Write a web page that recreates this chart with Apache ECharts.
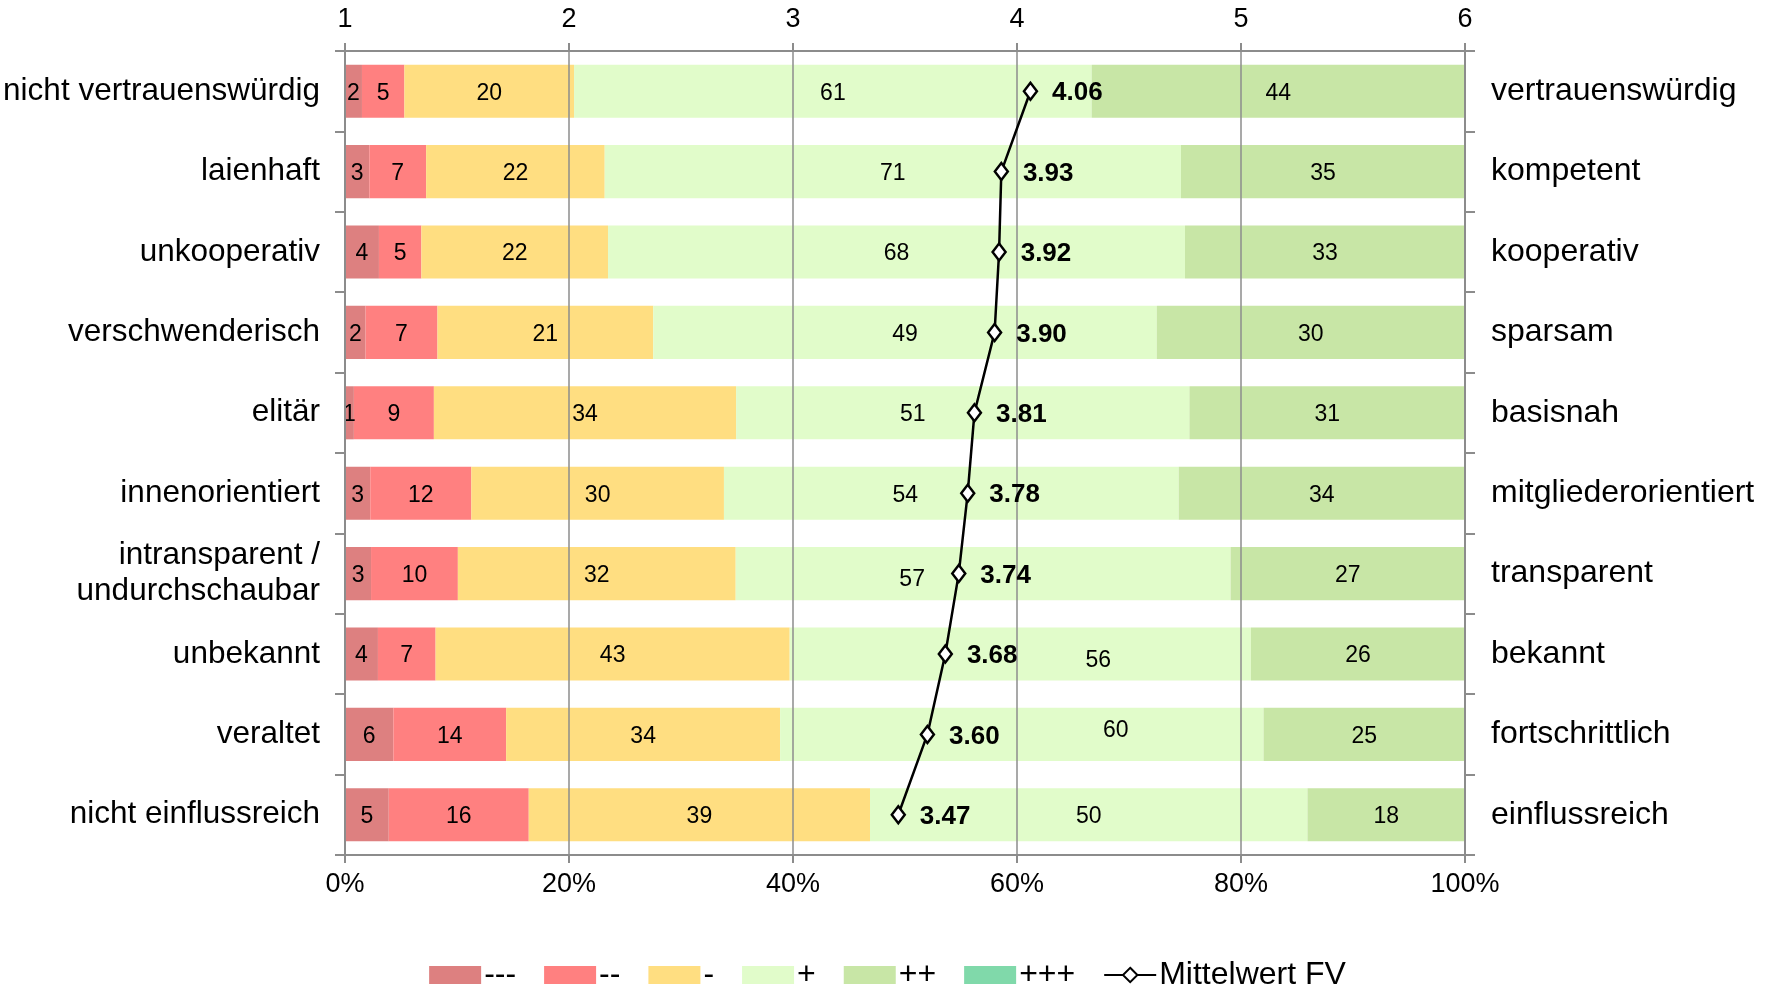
<!DOCTYPE html>
<html>
<head>
<meta charset="utf-8">
<script src="https://cdn.jsdelivr.net/npm/echarts@6/dist/echarts.min.js"></script>
<style>
  html, body { margin: 0; padding: 0; background: #fff; }
  #chart { width: 1775px; height: 987px; }
</style>
</head>
<body>
<div id="chart"></div>
<script>
// Gegensatzpaare (links negativ, rechts positiv)
const leftLabels = ["nicht vertrauenswürdig", "laienhaft", "unkooperativ", "verschwenderisch", "elitär",
  "innenorientiert", "intransparent /\nundurchschaubar", "unbekannt", "veraltet", "nicht einflussreich"];
const rightLabels = ["vertrauenswürdig", "kompetent", "kooperativ", "sparsam", "basisnah",
  "mitgliederorientiert", "transparent", "bekannt", "fortschrittlich", "einflussreich"];

// Anzahl Nennungen je Stufe
const minus3 = [2, 3, 4, 2, 1, 3, 3, 4, 6, 5];
const minus2 = [5, 7, 5, 7, 9, 12, 10, 7, 14, 16];
const minus1 = [20, 22, 22, 21, 34, 30, 32, 43, 34, 39];
const plus1 = [61, 71, 68, 49, 51, 54, 57, 56, 60, 50];
const plus2 = [44, 35, 33, 30, 31, 34, 27, 26, 25, 18];
const plus3 = [0, 0, 0, 0, 0, 0, 0, 0, 0, 0];

// Mittelwert FV (Skala 1-6)
const means = [4.06, 3.93, 3.92, 3.90, 3.81, 3.78, 3.74, 3.68, 3.60, 3.47];

const pctTicks = [0, 20, 40, 60, 80, 100];
const scaleTicks = [1, 2, 3, 4, 5, 6];

const levels = [
  { name: "---", vals: minus3, color: "#DD8080" },
  { name: "--", vals: minus2, color: "#FF8080" },
  { name: "-", vals: minus1, color: "#FFDE81" },
  { name: "+", vals: plus1, color: "#E1FCCA" },
  { name: "++", vals: plus2, color: "#C8E6A6" },
  { name: "+++", vals: plus3, color: "#80D9AA" },
];

// label nudges for the "+" segment, like in the original
const plusLabelShift = { 4: [-50, 0], 5: [-46, 0], 6: [-71, 4], 7: [78, 5], 8: [94, -6] };

const totals = leftLabels.map((_, i) => levels.reduce((s, l) => s + l.vals[i], 0));

const FONT = "Liberation Sans, Arial, sans-serif";
const GRAY = "#8c8c8c";

let series = levels.map((l) => ({
  name: l.name,
  type: "bar",
  stack: "all",
  xAxisIndex: 0,
  yAxisIndex: 0,
  barCategoryGap: "34%",
  itemStyle: { color: l.color },
  label: {
    show: true,
    position: "inside",
    color: "#000",
    fontSize: 23,
    fontFamily: FONT,
    offset: [0, 2],
    formatter: (p) => (l.vals[p.dataIndex] ? String(l.vals[p.dataIndex]) : ""),
  },
  data: l.vals.map((v, i) => {
    let item = { value: (v / totals[i]) * 100 };
    if (l.name === "+" && plusLabelShift[i]) {
      item.label = { offset: [plusLabelShift[i][0], plusLabelShift[i][1] + 2] };
    }
    return item;
  }),
}));

series.push({
  name: "Mittelwert FV",
  type: "line",
  xAxisIndex: 1,
  yAxisIndex: 0,
  z: 10,
  data: means,
  symbol: "diamond",
  symbolSize: [13, 17],
  lineStyle: { color: "#000", width: 2.5 },
  itemStyle: { color: "#fff", borderColor: "#000", borderWidth: 2.5 },
  label: {
    show: true,
    position: "right",
    distance: 14,
    fontWeight: "bold",
    fontSize: 26,
    fontFamily: FONT,
    color: "#000",
    offset: [0, 2],
    formatter: (p) => p.value.toFixed(2),
  },
});

const chart = echarts.init(document.getElementById("chart"));
chart.setOption({
  animation: false,
  textStyle: { fontFamily: FONT },
  grid: { left: 345, right: 310, top: 51, bottom: 132, containLabel: false, outerBoundsMode: "none" },
  legend: {
    top: 954,
    left: "center",
    itemWidth: 52,
    itemHeight: 18,
    itemGap: 28,
    textStyle: { fontSize: 32, color: "#000", fontFamily: FONT, padding: [0, 0, 0, -2] },
    data: levels.map((l) => ({ name: l.name, icon: "rect" })).concat([{ name: "Mittelwert FV" }]),
  },
  xAxis: [
    {
      type: "value",
      position: "bottom",
      min: pctTicks[0],
      max: pctTicks[pctTicks.length - 1],
      interval: 20,
      z: 3,
      axisLine: { show: true, lineStyle: { color: GRAY, width: 2 } },
      axisTick: { show: true, length: 8, lineStyle: { color: GRAY, width: 2 } },
      splitLine: { show: false },
      axisLabel: { fontSize: 27, color: "#000", margin: 16, formatter: "{value}%" },
    },
    {
      type: "value",
      position: "top",
      min: scaleTicks[0],
      max: scaleTicks[scaleTicks.length - 1],
      interval: 1,
      z: 3,
      axisLine: { show: true, lineStyle: { color: GRAY, width: 2 } },
      axisTick: { show: true, length: 8, lineStyle: { color: GRAY, width: 2 } },
      splitLine: { show: true, lineStyle: { color: GRAY, width: 1.5 } },
      axisLabel: { fontSize: 27, color: "#000", margin: 18 },
    },
  ],
  yAxis: [
    {
      type: "category",
      data: leftLabels,
      inverse: true,
      position: "left",
      z: 3,
      axisLine: { show: true, lineStyle: { color: GRAY, width: 2 } },
      axisTick: { show: true, length: 10, lineStyle: { color: GRAY, width: 2 } },
      axisLabel: { fontSize: 31.5, color: "#000", margin: 25, lineHeight: 36, align: "right" },
    },
    {
      type: "category",
      data: rightLabels,
      inverse: true,
      position: "right",
      z: 3,
      axisLine: { show: true, lineStyle: { color: GRAY, width: 2 } },
      axisTick: { show: true, length: 10, lineStyle: { color: GRAY, width: 2 } },
      axisLabel: { fontSize: 32, color: "#000", margin: 26, align: "left" },
    },
  ],
  series: series,
});
</script>
</body>
</html>
